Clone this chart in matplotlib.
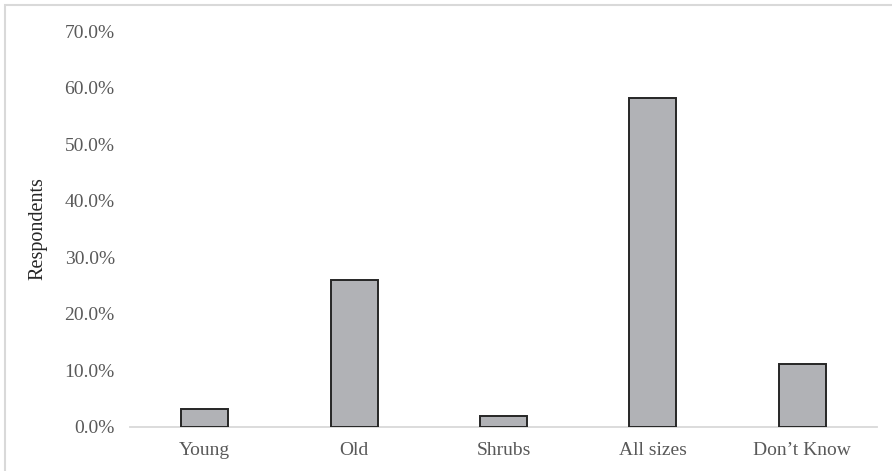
import matplotlib
matplotlib.use("Agg")
import matplotlib.pyplot as plt
from matplotlib.patches import Rectangle
from matplotlib.ticker import FuncFormatter

categories = ["Young", "Old", "Shrubs", "All sizes", "Don\u2019t Know"]
shares = [3.1, 26.0, 1.9, 58.1, 11.1]
y_ticks = [0, 10, 20, 30, 40, 50, 60, 70]

plt.rcParams["font.family"] = ["Liberation Serif", "DejaVu Serif"]

W, H = 892, 471
fig = plt.figure(figsize=(W / 100, H / 100), dpi=100)
ax = fig.add_axes([130 / W, (H - 426.7) / H, (877 - 130) / W, (426.7 - 31) / H])

x = range(len(categories))
ax.bar(x, shares, width=0.315, color="#b1b2b6", edgecolor="#262626", linewidth=1.4, zorder=3)

ax.set_xlim(-0.5, len(categories) - 0.5)
ax.set_ylim(0, 70)
ax.set_yticks(y_ticks)
ax.yaxis.set_major_formatter(FuncFormatter(lambda v, _: f"{v:.1f}%"))
ax.set_xticks(list(x))
ax.set_xticklabels(categories)

for s in ("top", "right", "left"):
    ax.spines[s].set_visible(False)
ax.spines["bottom"].set_color("#d9d9d9")
ax.spines["bottom"].set_linewidth(1.3)
ax.tick_params(axis="both", length=0, labelsize=14, colors="#595959")
ax.tick_params(axis="y", pad=11)
ax.tick_params(axis="x", pad=11)

ax.set_ylabel("Respondents", fontsize=14.5, color="#262626", labelpad=12)

# light outer frame around the chart area
fig.patches.append(Rectangle((4.5 / W, -0.1), 1.2, (H - 4.5) / H + 0.1,
                             transform=fig.transFigure, fill=False,
                             edgecolor="#d9d9d9", linewidth=1.5))

fig.savefig("out.png", dpi=100)
